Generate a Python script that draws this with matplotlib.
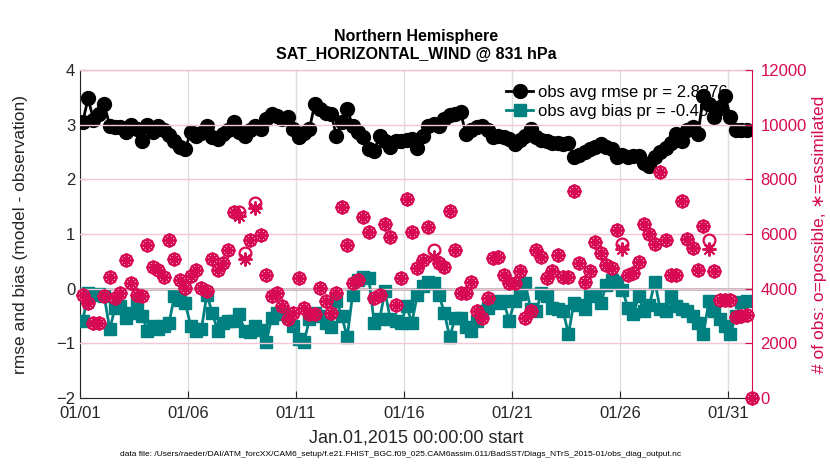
import numpy as np
import matplotlib
matplotlib.use('Agg')
import matplotlib.pyplot as plt

plt.rcParams['font.family'] = ['Liberation Sans', 'DejaVu Sans']

# 6-hourly bins, Jan 1 - Jan 31 2015 (days since Jan.01 00Z)
n_bins = 124
days = 0.125 + 0.25 * np.arange(n_bins)

rmse = [3.05, 3.48, 3.09, 3.2, 3.38, 2.98, 2.95, 2.95, 2.86, 3.0, 2.92, 2.7,
        3.0, 2.86, 2.98, 2.9, 2.82, 2.7, 2.6, 2.55, 2.86, 2.8, 2.85, 2.98,
        2.77, 2.74, 2.83, 2.9, 3.04, 2.86, 2.8, 2.9, 2.98, 2.92, 3.1, 3.2,
        3.15, 3.1, 3.14, 2.92, 2.77, 2.85, 2.92, 3.38, 3.28, 3.22, 3.2, 2.8,
        3.05, 3.29, 2.98, 2.86, 2.77, 2.55, 2.52, 2.8, 2.7, 2.6, 2.7, 2.7,
        2.72, 2.74, 2.58, 2.8, 2.98, 3.01, 2.98, 3.1, 3.17, 3.2, 3.23, 2.83,
        2.9, 2.95, 2.98, 2.9, 2.77, 2.8, 2.78, 2.74, 2.64, 2.72, 2.8, 2.92,
        2.77, 2.72, 2.7, 2.67, 2.66, 2.64, 2.67, 2.4, 2.45, 2.5, 2.55, 2.6,
        2.64, 2.6, 2.55, 2.4, 2.45, 2.4, 2.42, 2.43, 2.3, 2.25, 2.4, 2.5,
        2.58, 2.67, 2.83, 2.7, 2.9, 2.95, 2.83, 3.53, 3.38, 3.14, 3.32, 3.53,
        3.14, 2.9, 2.9, 2.9]

bias = [-0.59, -0.08, -0.11, -0.1, -0.14, -0.74, -0.35, -0.32, -0.53, -0.44, -0.26, -0.5,
        -0.77, -0.68, -0.74, -0.68, -0.62, -0.14, -0.2, -0.26, -0.68, -0.77, -0.74, -0.11,
        -0.44, -0.77, -0.62, -0.59, -0.6, -0.47, -0.77, -0.8, -0.68, -0.75, -0.98, -0.53,
        -0.44, -0.47, -0.5, -0.68, -0.92, -0.98, -0.56, -0.44, -0.5, -0.62, -0.71, -0.23,
        -0.5, -0.89, -0.11, 0.16, 0.22, 0.2, -0.62, -0.56, -0.05, -0.56, -0.6, -0.62,
        -0.32, -0.62, -0.11, 0.04, 0.13, 0.1, -0.11, -0.44, -0.89, -0.53, -0.53, -0.71,
        -0.77, -0.6, -0.41, -0.35, -0.23, -0.26, -0.23, -0.59, -0.23, -0.1, 0.1, -0.38,
        -0.41, -0.08, -0.14, -0.35, -0.38, -0.41, -0.83, -0.26, -0.3, -0.38, -0.11, -0.14,
        -0.26, 0.07, 0.16, 0.13, -0.02, -0.35, -0.47, -0.14, -0.41, -0.3, 0.13, -0.38,
        -0.41, -0.14, -0.32, -0.38, -0.4, -0.5, -0.62, -0.83, -0.23, -0.4, -0.56, -0.68,
        -0.83, -0.5, -0.25, -0.22]

# obs counts, one extra empty bin at the end
count_days = 0.125 + 0.25 * np.arange(n_bins + 1)
n_possible = [3780, 3480, 2760, 2760, 3720, 4440, 3660, 3840, 5050, 4200, 3780, 3720,
              5600, 4800, 4680, 4440, 5770, 5100, 4330, 4020, 4450, 4690, 4020, 3900,
              5100, 4690, 4930, 5400, 6800, 6800, 5290, 5770, 7150, 5950, 4500, 3720,
              3840, 3360, 2880, 3120, 4390, 3300, 3060, 3060, 4020, 3540, 3120, 3840,
              6980, 5590, 4200, 4330, 6610, 6070, 3660, 3780, 6370, 5890, 3420, 4390,
              7280, 6070, 4750, 5050, 6250, 5400, 4930, 4810, 6850, 5400, 3840, 3840,
              4260, 3180, 2940, 3660, 5110, 5170, 4500, 4200, 4200, 4630, 2940, 3180,
              5400, 5170, 4380, 4630, 5230, 4440, 4440, 7580, 4930, 4260, 4630, 5700,
              5290, 4870, 4750, 6130, 5650, 4500, 4570, 4990, 6370, 6010, 5650, 8270,
              5770, 4500, 4500, 7220, 5830, 5470, 4690, 6310, 5770, 4630, 3580, 3580,
              3580, 2950, 3000, 3050, 0]
n_used = list(n_possible)
for i, v in [(29, 6650), (30, 5100), (32, 6950), (65, 5150), (100, 5450), (116, 5450)]:
    n_used[i] = v

tick_days = [0, 5, 10, 15, 20, 25, 30]
tick_labels = ['01/01', '01/06', '01/11', '01/16', '01/21', '01/26', '01/31']

rmse_pr = 2.8376
bias_pr = -0.4536

MAGENTA = '#D70A53'
TEAL = '#008080'
DARK = '#262626'

fig = plt.figure(figsize=(8.3, 4.7), dpi=100)
ax1 = fig.add_axes([80 / 830, 72 / 470, 672 / 830, 328 / 470])
ax2 = ax1.twinx()

ax1.axhline(0, color='#b4b4b4', lw=2, zorder=1)
ax1.plot(days, rmse, '-o', color='black', lw=2, ms=10, mfc='black', mec='black',
         label=f'obs avg rmse pr = {rmse_pr}', zorder=3)
ax1.plot(days, bias, '-s', color=TEAL, lw=2, ms=9, mfc=TEAL, mec=TEAL,
         label=f'obs avg bias pr = {bias_pr}', zorder=3)

ax2.plot(count_days, n_possible, 'o', ls='none', ms=8.5, mfc='none', mec=MAGENTA, mew=1.6,
         clip_on=False)
ax2.plot(count_days, n_used, marker=(8, 2, 0), ls='none', ms=10, mec=MAGENTA, mew=1.4,
         clip_on=False)

ax1.set_xlim(0, 31.125)
ax1.set_ylim(-2, 4)
ax2.set_ylim(0, 12000)
ax1.set_xticks(tick_days)
ax1.set_xticklabels(tick_labels)
ax1.set_yticks(np.arange(-2, 5, 1))
ax2.set_yticks(np.arange(0, 12001, 2000))

ax1.grid(axis='x', color='#dddddd', lw=1)
ax2.grid(axis='y', color='#f4c6d6', lw=1)
ax1.set_axisbelow(True)

ax1.tick_params(direction='in', labelsize=12, colors=DARK, length=5)
ax1.tick_params(axis='x', pad=6)
ax2.tick_params(direction='in', labelsize=12, colors=MAGENTA, length=5, pad=6)
for s in ['left', 'top', 'bottom']:
    ax1.spines[s].set_color(DARK)
    ax2.spines[s].set_visible(False)
ax1.spines['right'].set_visible(False)
ax2.spines['right'].set_color(MAGENTA)

ax1.set_xlabel('Jan.01,2015 00:00:00 start', fontsize=13, color=DARK, labelpad=6)
ax1.set_ylabel('rmse and bias (model - observation)', fontsize=12.5, color=DARK,
               labelpad=20)
ax2.set_ylabel('# of obs: o=possible, \u2217=assimilated', fontsize=12.5, color=MAGENTA,
               labelpad=4)
ax1.set_title('Northern Hemisphere\nSAT_HORIZONTAL_WIND @ 831 hPa', fontsize=11.5,
              fontweight='bold', color='black', pad=8, linespacing=1.25)

leg = ax1.legend(loc='upper left', bbox_to_anchor=(0.617, 0.99), frameon=False,
                 fontsize=12, handlelength=1.6, handletextpad=0.3, labelspacing=0.25,
                 borderaxespad=0.3)
leg.set_zorder(1)

fig.text(0.483, 0.032,
         'data file: /Users/raeder/DAI/ATM_forcXX/CAM6_setup/f.e21.FHIST_BGC.f09_025.'
         'CAM6assim.011/BadSST/Diags_NTrS_2015-01/obs_diag_output.nc',
         fontsize=6, ha='center', va='center', color='black')

fig.savefig('out.png', dpi=100)
